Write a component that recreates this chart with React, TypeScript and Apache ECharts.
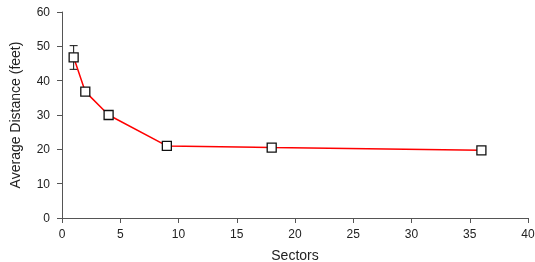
import React, { useEffect, useRef } from "react";
import * as echarts from "echarts";

const sectors = [1, 2, 4, 9, 18, 36];
const avgDistance = [46.8, 36.8, 30.0, 21.0, 20.5, 19.7];
const errLow = [43.3, 36.1, 29.6, 20.7, 20.2, 19.4];
const errHigh = [50.2, 37.5, 30.4, 21.3, 20.8, 20.0];
const xTicks = { min: 0, max: 40, interval: 5 };
const yTicks = { min: 0, max: 60, interval: 10 };

export default function App() {
  const ref = useRef<HTMLDivElement>(null);
  useEffect(() => {
    const chart = echarts.init(ref.current!, null, { renderer: "svg" });
    const font = "Liberation Sans, Arial, sans-serif";
    const axisColor = "#555";
    chart.setOption({
      animation: false,
      grid: { left: 62, right: 7, top: 12, bottom: 44, outerBoundsMode: "none", containLabel: false },
      xAxis: {
        type: "value",
        min: xTicks.min,
        max: xTicks.max,
        interval: xTicks.interval,
        name: "Sectors",
        nameLocation: "middle",
        nameGap: 30,
        nameTextStyle: { fontFamily: font, fontSize: 14, color: "#222" },
        axisLine: { onZero: false, lineStyle: { color: axisColor, width: 1 } },
        axisTick: { show: true, length: 5, lineStyle: { color: axisColor } },
        axisLabel: { fontFamily: font, fontSize: 12, color: "#222", margin: 10 },
        splitLine: { show: false },
      },
      yAxis: {
        type: "value",
        min: yTicks.min,
        max: yTicks.max,
        interval: yTicks.interval,
        name: "Average Distance (feet)",
        nameLocation: "middle",
        nameGap: 40,
        nameTextStyle: { fontFamily: font, fontSize: 14, color: "#222" },
        axisLine: { show: true, onZero: false, lineStyle: { color: axisColor, width: 1 } },
        axisTick: { show: true, length: 5, lineStyle: { color: axisColor } },
        axisLabel: { fontFamily: font, fontSize: 12, color: "#222", margin: 12 },
        splitLine: { show: false },
      },
      series: [
        {
          type: "custom",
          z: 1,
          data: sectors.map((x, i) => [x, errLow[i], errHigh[i]]),
          renderItem: (params: any, api: any) => {
            const x = api.value(0);
            const lo = api.coord([x, api.value(1)]);
            const hi = api.coord([x, api.value(2)]);
            const cap = 4;
            const style = { stroke: "#111", lineWidth: 1 };
            return {
              type: "group",
              children: [
                { type: "line", shape: { x1: lo[0], y1: lo[1], x2: hi[0], y2: hi[1] }, style },
                { type: "line", shape: { x1: hi[0] - cap, y1: hi[1], x2: hi[0] + cap, y2: hi[1] }, style },
                { type: "line", shape: { x1: lo[0] - cap, y1: lo[1], x2: lo[0] + cap, y2: lo[1] }, style },
              ],
            };
          },
        },
        {
          type: "line",
          z: 3,
          data: sectors.map((x, i) => [x, avgDistance[i]]),
          symbol: "rect",
          symbolSize: 9,
          lineStyle: { color: "#ff0000", width: 1.5 },
          itemStyle: { color: "#ffffff", borderColor: "#111", borderWidth: 1.3 },
        },
      ],
    });
    return () => chart.dispose();
  }, []);
  return (
    <div
      ref={ref}
      style={{ position: "fixed", left: 0, top: 0, width: 535, height: 262 }}
    />
  );
}
